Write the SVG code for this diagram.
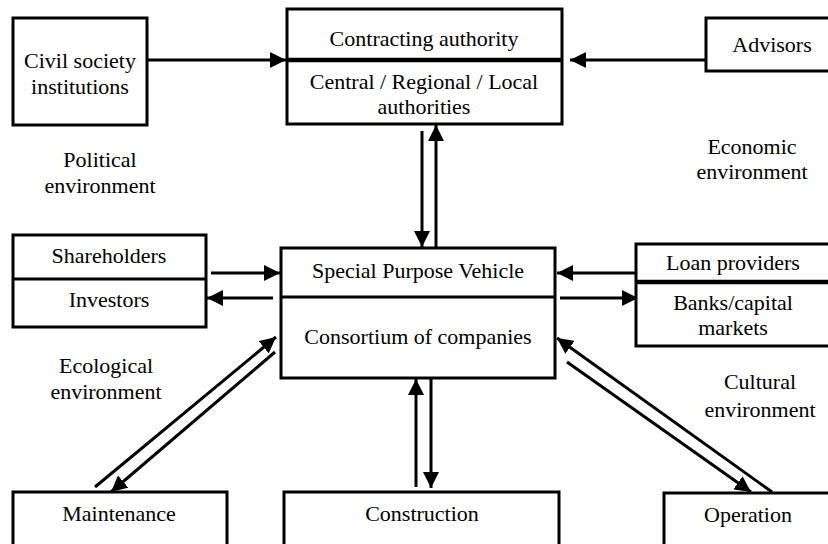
<svg xmlns="http://www.w3.org/2000/svg" width="828" height="544" viewBox="0 0 828 544">
<defs>
<marker id="ah" markerUnits="userSpaceOnUse" markerWidth="18" markerHeight="16" refX="16" refY="8" orient="auto">
<path d="M0,0 L16,8 L0,16 Z" fill="#000"/>
</marker>
</defs>
<style>
.box{fill:#fff;stroke:#000;stroke-width:3}
.div{stroke:#000;stroke-width:3}
.thick{stroke:#000;stroke-width:4.5}
.c{stroke:#000;stroke-width:3;fill:none;marker-end:url(#ah)}
</style>
<rect width="828" height="544" fill="#fff"/>
<g id="connectors">
<line class="c" x1="147" y1="60" x2="286" y2="60"/>
<line class="c" x1="706" y1="60" x2="570" y2="60"/>
<line class="c" x1="422" y1="131" x2="422" y2="247"/>
<line class="c" x1="436" y1="248" x2="436" y2="125"/>
<line class="c" x1="211" y1="273" x2="280" y2="273"/>
<line class="c" x1="273" y1="298" x2="207" y2="298"/>
<line class="c" x1="636" y1="273" x2="557" y2="273"/>
<line class="c" x1="560" y1="298" x2="638" y2="298"/>
<line class="c" x1="95" y1="487" x2="276" y2="337"/>
<line class="c" x1="275" y1="352" x2="111" y2="492"/>
<line class="c" x1="772" y1="492" x2="557" y2="338"/>
<line class="c" x1="567" y1="362" x2="751" y2="492"/>
<line class="c" x1="416" y1="487" x2="416" y2="379"/>
<line class="c" x1="431" y1="379" x2="431" y2="488"/>
</g>
<g font-family="Liberation Serif" font-size="22" text-anchor="middle" fill="#000">
<g id="civil">
<rect class="box" x="13" y="18" width="134" height="107"/>
<text x="80" y="68">Civil society</text>
<text x="80" y="94">institutions</text>
</g>
<g id="contracting">
<rect class="box" x="287" y="9" width="275" height="115"/>
<line class="thick" x1="287" y1="60" x2="562" y2="60"/>
<text x="424" y="46">Contracting authority</text>
<text x="424" y="89">Central / Regional / Local</text>
<text x="424" y="114">authorities</text>
</g>
<g id="advisors">
<rect class="box" x="706" y="18" width="130" height="53"/>
<text x="772" y="52">Advisors</text>
</g>
<g id="political">
<text x="100" y="167">Political</text>
<text x="100" y="193">environment</text>
</g>
<g id="economic">
<text x="752" y="154">Economic</text>
<text x="752" y="179">environment</text>
</g>
<g id="shareholders">
<rect class="box" x="13" y="235" width="193" height="92"/>
<line class="div" x1="13" y1="279" x2="206" y2="279"/>
<text x="109" y="263">Shareholders</text>
<text x="109" y="307">Investors</text>
</g>
<g id="spv">
<rect class="box" x="281" y="248" width="274" height="130"/>
<line class="div" x1="281" y1="297" x2="555" y2="297"/>
<text x="418" y="278">Special Purpose Vehicle</text>
<text x="418" y="344">Consortium of companies</text>
</g>
<g id="loan">
<rect class="box" x="636" y="244" width="200" height="102"/>
<line class="thick" x1="636" y1="282" x2="836" y2="282"/>
<text x="733" y="270">Loan providers</text>
<text x="733" y="310">Banks/capital</text>
<text x="733" y="335">markets</text>
</g>
<g id="ecological">
<text x="106" y="373">Ecological</text>
<text x="106" y="399">environment</text>
</g>
<g id="cultural">
<text x="760" y="389">Cultural</text>
<text x="760" y="417">environment</text>
</g>
<g id="maintenance">
<rect class="box" x="13" y="492" width="214" height="60"/>
<text x="119" y="521">Maintenance</text>
</g>
<g id="construction">
<rect class="box" x="284" y="492" width="275" height="60"/>
<text x="422" y="521">Construction</text>
</g>
<g id="operation">
<rect class="box" x="664" y="493" width="170" height="60"/>
<text x="748" y="522">Operation</text>
</g>
</g>
</svg>
